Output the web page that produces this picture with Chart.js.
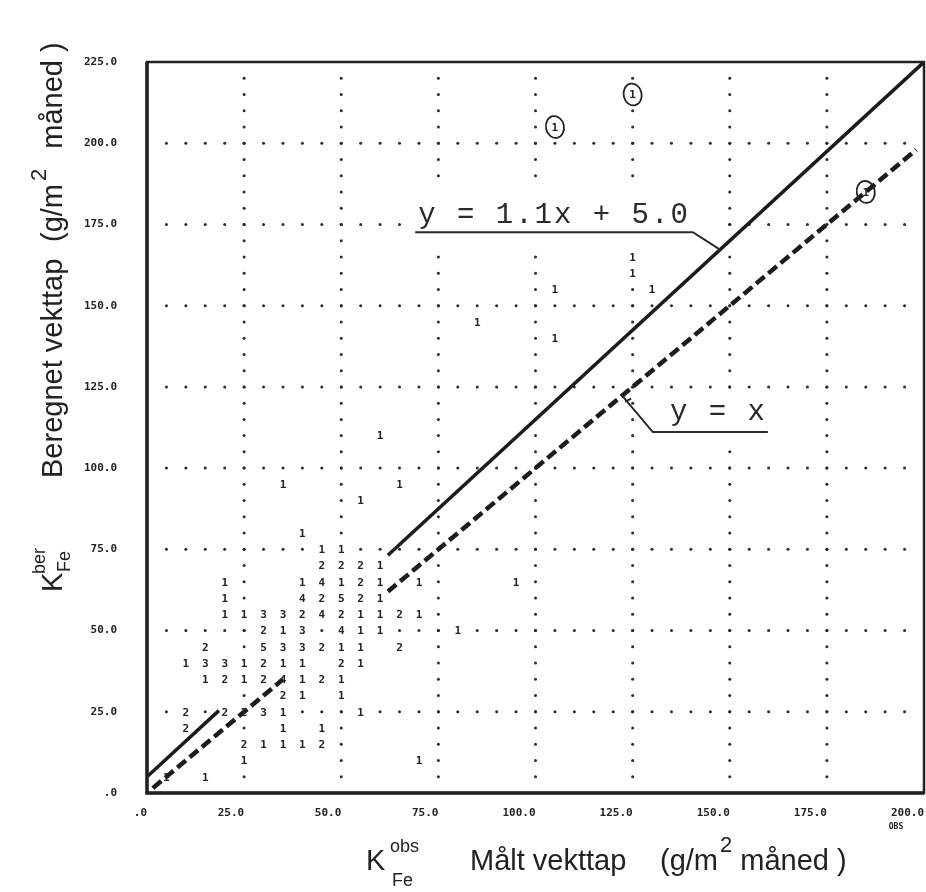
<!DOCTYPE html>
<html>
<head>
<meta charset="utf-8">
<script src="https://cdn.jsdelivr.net/npm/chart.js@4.4.1/dist/chart.umd.min.js"></script>
<style>
  html, body { margin: 0; padding: 0; background: #fff; }
  #wrap { width: 926px; height: 892px; }
</style>
</head>
<body>
<div id="wrap"><canvas id="chart" width="926" height="892"></canvas></div>
<script>
// Axis tick labels (plotter style, no leading zero)
const xTickLabels = ['.0', '25.0', '50.0', '75.0', '100.0', '125.0', '150.0', '175.0', '200.0'];
const yTickLabels = ['.0', '25.0', '50.0', '75.0', '100.0', '125.0', '150.0', '175.0', '200.0', '225.0'];

// Dotted reference lines and the 5 g/m2 cell step
const gridX = [25, 50, 75, 100, 125, 150, 175];
const gridY = [25, 50, 75, 100, 125, 150, 175, 200];
const CELL = 5;

// Number of samples per cell: measured (obs) vs calculated (ber)
const obsX = [
  5, 15,
  25, 70,
  25, 30, 35, 40, 45,
  10, 35, 45,
  10, 20, 25, 30, 35, 55,
  35, 40, 50,
  15, 20, 25, 30, 35, 40, 45, 50,
  10, 15, 20, 25, 30, 35, 40, 50, 55,
  15, 30, 35, 40, 45, 50, 55, 65,
  30, 35, 40, 50, 55, 60, 80,
  20, 25, 30, 35, 40, 45, 50, 55, 60, 65, 70,
  20, 40, 45, 50, 55, 60,
  20, 40, 45, 50, 55, 60, 70, 95,
  45, 50, 55, 60,
  45, 50,
  40,
  55,
  35, 65,
  60,
  105,
  85,
  105, 130,
  125,
  125
];
const berY = [
  5, 5,
  10, 10,
  15, 15, 15, 15, 15,
  20, 20, 20,
  25, 25, 25, 25, 25, 25,
  30, 30, 30,
  35, 35, 35, 35, 35, 35, 35, 35,
  40, 40, 40, 40, 40, 40, 40, 40, 40,
  45, 45, 45, 45, 45, 45, 45, 45,
  50, 50, 50, 50, 50, 50, 50,
  55, 55, 55, 55, 55, 55, 55, 55, 55, 55, 55,
  60, 60, 60, 60, 60, 60,
  65, 65, 65, 65, 65, 65, 65, 65,
  70, 70, 70, 70,
  75, 75,
  80,
  90,
  95, 95,
  110,
  140,
  145,
  155, 155,
  160,
  165
];
const counts = [
  1, 1,
  1, 1,
  2, 1, 1, 1, 2,
  2, 1, 1,
  2, 2, 2, 3, 1, 1,
  2, 1, 1,
  1, 2, 1, 2, 4, 1, 2, 1,
  1, 3, 3, 1, 2, 1, 1, 2, 1,
  2, 5, 3, 3, 2, 1, 1, 2,
  2, 1, 3, 4, 1, 1, 1,
  1, 1, 3, 3, 2, 4, 2, 1, 1, 2, 1,
  1, 4, 2, 5, 2, 1,
  1, 1, 4, 1, 2, 1, 1, 1,
  2, 2, 2, 1,
  1, 1,
  1,
  1,
  1, 1,
  1,
  1,
  1,
  1, 1,
  1,
  1
];

// Single outliers marked by hand with a ring
const circledX = [105, 125, 185];
const circledY = [205, 215, 185];

// Regression line y = 1.1x + 5.0 and the identity line y = x
const FIT_SLOPE = 1.1;
const FIT_INTERCEPT = 5.0;
const fitLowX = [0, 18.5];
const fitHighX = [62, 200];
const idLowX = [1.5, 35];
const idHighX = [62, 198];

const INK = '#222';
const MONO = "'DejaVu Sans Mono', monospace";
const SANS = "'Liberation Sans', Arial, sans-serif";
const TYPE = "'Liberation Mono', 'Courier New', monospace";

const fitPoints = (xs) => xs.map((x) => ({ x, y: FIT_SLOPE * x + FIT_INTERCEPT }));
const idPoints = (xs) => xs.map((x) => ({ x, y: x }));

// Line labels, in data units
const fitLabel = { text: 'y = 1.1x + 5.0', x: 69.8, y: 175.4, lineY: 172.6, lineEnd: 140.5, touchX: 147.5 };
const idLabel = { text: 'y = x', x: 134.6, y: 114.8, lineY: 111.1, lineStart: 130.2, lineEnd: 159.8, touchX: 122.3 };

function labelBoxes(x, y) {
  const fx = x.getPixelForValue(fitLabel.x), fy = y.getPixelForValue(fitLabel.y);
  const fl = y.getPixelForValue(fitLabel.lineY), fe = x.getPixelForValue(fitLabel.lineEnd);
  const ix = x.getPixelForValue(idLabel.lineStart), iy = y.getPixelForValue(idLabel.y);
  const il = y.getPixelForValue(idLabel.lineY), ie = x.getPixelForValue(idLabel.lineEnd);
  return [
    [fx - 8, fy - 38, fe + 22 - (fx - 8), fl + 12 - (fy - 38)],
    [ix - 8, iy - 28, ie + 12 - (ix - 8), il + 12 - (iy - 28)]
  ];
}

const latticePlugin = {
  id: 'lattice',
  beforeDatasetsDraw(chart) {
    const { ctx, scales: { x, y } } = chart;
    const taken = new Set(obsX.map((v, i) => v + ',' + berY[i]));
    circledX.forEach((v, i) => taken.add(v + ',' + circledY[i]));
    ctx.save();
    ctx.fillStyle = '#2b2b2b';
    const dot = (vx, vy) => {
      if (taken.has(vx + ',' + vy)) return;
      ctx.beginPath();
      ctx.arc(x.getPixelForValue(vx), y.getPixelForValue(vy), 1.5, 0, Math.PI * 2);
      ctx.fill();
    };
    gridY.forEach((gy) => { for (let vx = CELL; vx < x.max; vx += CELL) dot(vx, gy); });
    gridX.forEach((gx) => { for (let vy = CELL; vy < y.max; vy += CELL) dot(gx, vy); });
    // blank patches under the line labels
    ctx.fillStyle = '#fff';
    labelBoxes(x, y).forEach((b) => ctx.fillRect(b[0], b[1], b[2], b[3]));
    ctx.restore();
  }
};

function drawYTitle(ctx) {
  ctx.save();
  ctx.translate(62, 478);
  ctx.rotate(-Math.PI / 2);
  ctx.fillStyle = INK;
  ctx.textAlign = 'left';
  ctx.textBaseline = 'alphabetic';
  ctx.font = '29px ' + SANS;
  ctx.fillText('Beregnet vekttap', 0, 0);
  ctx.fillText('(g/m', 236, 0);
  let u = 236 + ctx.measureText('(g/m').width;
  ctx.font = '22px ' + SANS;
  ctx.fillText('2', u + 3, -16);
  u += 3 + ctx.measureText('2').width + 12;
  ctx.font = '29px ' + SANS;
  ctx.fillText(' måned )', u, 0);
  // K with superscript / subscript
  ctx.fillText('K', -114, 0);
  ctx.font = '18px ' + SANS;
  ctx.fillText('ber', -96, -17);
  ctx.fillText('Fe', -94, 8);
  ctx.restore();
}

function drawXTitle(ctx) {
  ctx.save();
  ctx.fillStyle = INK;
  ctx.textAlign = 'left';
  ctx.textBaseline = 'alphabetic';
  ctx.font = '29px ' + SANS;
  ctx.fillText('K', 366, 870);
  ctx.font = '18px ' + SANS;
  ctx.fillText('obs', 390, 852);
  ctx.fillText('Fe', 392, 886);
  ctx.font = '29px ' + SANS;
  ctx.fillText('Målt vekttap', 470, 870);
  ctx.fillText('(g/m', 660, 870);
  let u = 660 + ctx.measureText('(g/m').width;
  ctx.font = '22px ' + SANS;
  ctx.fillText('2', u + 2, 852);
  u += 2 + ctx.measureText('2').width;
  ctx.font = '29px ' + SANS;
  ctx.fillText(' måned )', u, 870);
  ctx.restore();
}

const marksPlugin = {
  id: 'marks',
  afterDatasetsDraw(chart) {
    const { ctx, chartArea: a, scales: { x, y } } = chart;
    ctx.save();
    ctx.fillStyle = INK;
    ctx.strokeStyle = INK;
    ctx.textAlign = 'center';
    ctx.textBaseline = 'middle';
    ctx.font = 'bold 11px ' + MONO;

    // cell counts
    chart.getDatasetMeta(0).data.forEach((pt, i) => {
      ctx.fillText(String(counts[i]), pt.x, pt.y + 1);
    });
    // ringed outliers
    ctx.lineWidth = 1.8;
    chart.getDatasetMeta(1).data.forEach((pt) => {
      ctx.fillText('1', pt.x, pt.y + 1);
      ctx.beginPath();
      ctx.ellipse(pt.x, pt.y, 9, 11, -0.2, 0, Math.PI * 2);
      ctx.stroke();
    });

    // line labels with underline and leader
    ctx.font = '29px ' + TYPE;
    ctx.letterSpacing = '2px';
    ctx.textAlign = 'left';
    ctx.textBaseline = 'alphabetic';
    ctx.fillStyle = '#2a2a2a';
    ctx.strokeStyle = '#2a2a2a';
    ctx.lineWidth = 2;

    let lx = x.getPixelForValue(fitLabel.x);
    ctx.fillText(fitLabel.text, lx, y.getPixelForValue(fitLabel.y));
    let ly = y.getPixelForValue(fitLabel.lineY);
    ctx.beginPath();
    ctx.moveTo(lx - 3, ly);
    ctx.lineTo(x.getPixelForValue(fitLabel.lineEnd), ly);
    ctx.lineTo(x.getPixelForValue(fitLabel.touchX), y.getPixelForValue(FIT_SLOPE * fitLabel.touchX + FIT_INTERCEPT));
    ctx.stroke();

    lx = x.getPixelForValue(idLabel.x);
    ctx.fillText(idLabel.text, lx, y.getPixelForValue(idLabel.y));
    ly = y.getPixelForValue(idLabel.lineY);
    const tx = x.getPixelForValue(idLabel.touchX), ty = y.getPixelForValue(idLabel.touchX);
    ctx.beginPath();
    ctx.moveTo(x.getPixelForValue(idLabel.lineEnd), ly);
    ctx.lineTo(x.getPixelForValue(idLabel.lineStart), ly);
    ctx.lineTo(tx, ty);
    ctx.moveTo(tx + 3, ty + 6);
    ctx.lineTo(tx + 9, ty + 3);
    ctx.stroke();
    ctx.letterSpacing = '0px';

    // plot frame
    ctx.strokeStyle = INK;
    ctx.lineWidth = 2.5;
    ctx.strokeRect(a.left, a.top, a.right - a.left, a.bottom - a.top);
    ctx.lineWidth = 3.5;
    ctx.beginPath();
    ctx.moveTo(a.left, a.top);
    ctx.lineTo(a.left, a.bottom);
    ctx.lineTo(a.right, a.bottom);
    ctx.stroke();

    // OBS tag under the last x tick
    ctx.fillStyle = INK;
    ctx.font = 'bold 8px ' + MONO;
    ctx.textAlign = 'center';
    ctx.fillText('OBS', x.getPixelForValue(200) - 28, a.bottom + 36);

    drawYTitle(ctx);
    drawXTitle(ctx);
    ctx.restore();
  }
};

const tickFont = { family: MONO, size: 11, weight: 'bold' };

new Chart(document.getElementById('chart').getContext('2d'), {
  type: 'scatter',
  data: {
    datasets: [
      {
        label: 'counts',
        data: obsX.map((v, i) => ({ x: v, y: berY[i] })),
        pointRadius: 0
      },
      {
        label: 'circled',
        data: circledX.map((v, i) => ({ x: v, y: circledY[i] })),
        pointRadius: 0
      },
      {
        type: 'line', label: 'fit', data: fitPoints(fitLowX),
        borderColor: '#1c1c1c', borderWidth: 3.5, pointRadius: 0, fill: false, tension: 0
      },
      {
        type: 'line', label: 'fit', data: fitPoints(fitHighX),
        borderColor: '#1c1c1c', borderWidth: 3.5, pointRadius: 0, fill: false, tension: 0
      },
      {
        type: 'line', label: 'y=x', data: idPoints(idLowX),
        borderColor: '#1c1c1c', borderWidth: 4.5, borderDash: [11, 5], pointRadius: 0, fill: false, tension: 0
      },
      {
        type: 'line', label: 'y=x', data: idPoints(idHighX),
        borderColor: '#1c1c1c', borderWidth: 4.5, borderDash: [11, 5], pointRadius: 0, fill: false, tension: 0
      }
    ]
  },
  options: {
    responsive: false,
    animation: false,
    devicePixelRatio: 1,
    events: [],
    layout: { padding: { left: 0, right: 2, top: 62, bottom: 0 } },
    plugins: { legend: { display: false }, tooltip: { enabled: false } },
    scales: {
      x: {
        type: 'linear', min: 0, max: 200,
        grid: { display: false, drawTicks: false },
        border: { display: false },
        ticks: {
          stepSize: 25, autoSkip: false, maxRotation: 0, align: 'end', padding: 14,
          color: INK, font: tickFont,
          callback: (v, i) => xTickLabels[i]
        },
        afterFit: (s) => { s.height = 99; s.paddingLeft = 0; s.paddingRight = 0; }
      },
      y: {
        type: 'linear', min: 0, max: 225,
        grid: { display: false, drawTicks: false },
        border: { display: false },
        ticks: {
          stepSize: 25, autoSkip: false, padding: 30,
          color: INK, font: tickFont,
          callback: (v, i) => yTickLabels[i]
        },
        afterFit: (s) => { s.width = 147; s.paddingTop = 0; s.paddingBottom = 0; }
      }
    }
  },
  plugins: [latticePlugin, marksPlugin]
});
</script>
</body>
</html>
